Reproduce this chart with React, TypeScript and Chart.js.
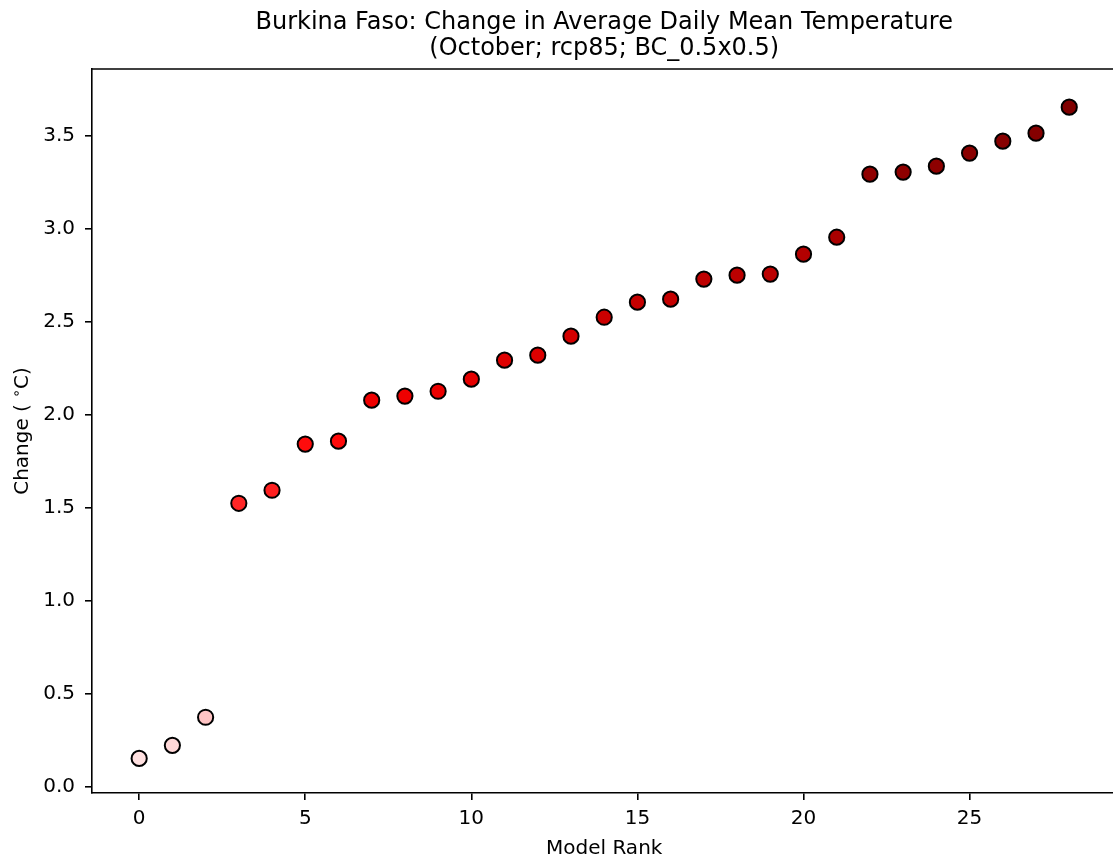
import React, { useEffect, useRef } from "react";
import { Chart, registerables } from "chart.js";

Chart.register(...registerables);

const titleLines = [
  "Burkina Faso: Change in Average Daily Mean Temperature",
  "(October; rcp85; BC_0.5x0.5)",
];
const xLabel = "Model Rank";

const modelRank = [
  0, 1, 2, 3, 4, 5, 6, 7, 8, 9, 10, 11, 12, 13, 14, 15, 16, 17, 18, 19, 20, 21,
  22, 23, 24, 25, 26, 27, 28,
];
const changeValues = [
  0.154, 0.224, 0.375, 1.525, 1.595, 1.843, 1.859, 2.079, 2.101, 2.127, 2.192,
  2.294, 2.321, 2.423, 2.525, 2.606, 2.622, 2.73, 2.751, 2.757, 2.864, 2.955,
  3.294, 3.305, 3.337, 3.407, 3.471, 3.514, 3.654,
];
const pointColors = [
  "#ffe0e0", "#ffd8d8", "#ffc4c4", "#ff2626", "#ff2020", "#ff0c0c", "#ff0a0a",
  "#f00000", "#ee0000", "#ec0000", "#e60000", "#de0000", "#dc0000", "#d40000",
  "#cc0000", "#c60000", "#c50000", "#be0000", "#bc0000", "#bb0000", "#b30000",
  "#aa0000", "#900000", "#8f0000", "#8d0000", "#8a0000", "#870000", "#850000",
  "#800000",
];
const xTicks = [0, 5, 10, 15, 20, 25];
const yTicks = [0, 0.5, 1.0, 1.5, 2.0, 2.5, 3.0, 3.5];

const FONT = "'DejaVu Sans', sans-serif";

const decorPlugin = {
  id: "decor",
  afterDraw(chart: any) {
    const { ctx, chartArea } = chart;
    ctx.save();
    ctx.strokeStyle = "#000";
    ctx.lineWidth = 1.6;
    ctx.beginPath();
    ctx.moveTo(chartArea.left, chartArea.top);
    ctx.lineTo(chartArea.right + 10, chartArea.top);
    ctx.stroke();
    const cx = (chartArea.left + chartArea.right) / 2;
    ctx.fillStyle = "#000";
    ctx.textAlign = "center";
    ctx.textBaseline = "alphabetic";
    ctx.font = `24px ${FONT}`;
    ctx.fillText(titleLines[0], cx, 28.5);
    ctx.fillText(titleLines[1], cx, 55);
    ctx.font = `20px ${FONT}`;
    ctx.fillText(xLabel, cx, 854);
    const cy = (chartArea.top + chartArea.bottom) / 2;
    ctx.translate(28, cy);
    ctx.rotate(-Math.PI / 2);
    const p1 = "Change ( ";
    const sup = "\u2218";
    const p2 = "C)";
    ctx.font = `20px ${FONT}`;
    const w1 = ctx.measureText(p1).width;
    const w3 = ctx.measureText(p2).width;
    ctx.font = `14px ${FONT}`;
    const w2 = ctx.measureText(sup).width;
    const total = w1 + w2 + w3;
    let x = -total / 2;
    ctx.textAlign = "left";
    ctx.font = `20px ${FONT}`;
    ctx.fillText(p1, x, 0);
    x += w1;
    ctx.font = `14px ${FONT}`;
    ctx.fillText(sup, x, -7);
    x += w2;
    ctx.font = `20px ${FONT}`;
    ctx.fillText(p2, x, 0);
    ctx.restore();
  },
};

export default function App() {
  const canvasRef = useRef<HTMLCanvasElement>(null);

  useEffect(() => {
    const canvas = canvasRef.current;
    if (!canvas) return;
    const chart = new Chart(canvas, {
      type: "scatter",
      data: {
        datasets: [
          {
            data: modelRank.map((r, i) => ({ x: r, y: changeValues[i] })),
            backgroundColor: pointColors,
            borderColor: "#000",
            borderWidth: 2,
            pointRadius: 7.6,
            pointHoverRadius: 7.6,
          },
        ],
      },
      options: {
        responsive: false,
        animation: false,
        events: [],
        layout: { padding: { left: 0, top: 69, right: 4, bottom: 0 } },
        plugins: { legend: { display: false }, tooltip: { enabled: false } },
        scales: {
          x: {
            type: "linear",
            min: -1.42,
            max: 29.42,
            afterBuildTicks: (s: any) => {
              s.ticks = xTicks.map((v) => ({ value: v }));
            },
            afterFit: (s: any) => {
              s.height = 68;
            },
            grid: { display: true, drawOnChartArea: false, drawTicks: true, tickLength: 7, color: "#000", lineWidth: 1.6 },
            border: { display: true, color: "#000", width: 1.6 },
            ticks: {
              color: "#000",
              font: { family: FONT, size: 20 },
              padding: 7,
              maxRotation: 0,
              autoSkip: false,
              callback: (v: any) => String(v),
            },
          },
          y: {
            type: "linear",
            min: -0.032,
            max: 3.859,
            afterBuildTicks: (s: any) => {
              s.ticks = yTicks.map((v) => ({ value: v }));
            },
            afterFit: (s: any) => {
              s.width = 92;
            },
            grid: { display: true, drawOnChartArea: false, drawTicks: true, tickLength: 7, color: "#000", lineWidth: 1.6 },
            border: { display: true, color: "#000", width: 1.6 },
            ticks: {
              color: "#000",
              font: { family: FONT, size: 20 },
              padding: 10,
              autoSkip: false,
              callback: (v: any) => Number(v).toFixed(1),
            },
          },
        },
      },
      plugins: [decorPlugin],
    });
    return () => chart.destroy();
  }, []);

  return (
    <div style={{ position: "fixed", left: 0, top: 0, width: 1113, height: 861, overflow: "hidden", background: "#fff" }}>
      <canvas ref={canvasRef} width={1126} height={861} style={{ display: "block", width: 1126, height: 861 }} />
    </div>
  );
}
